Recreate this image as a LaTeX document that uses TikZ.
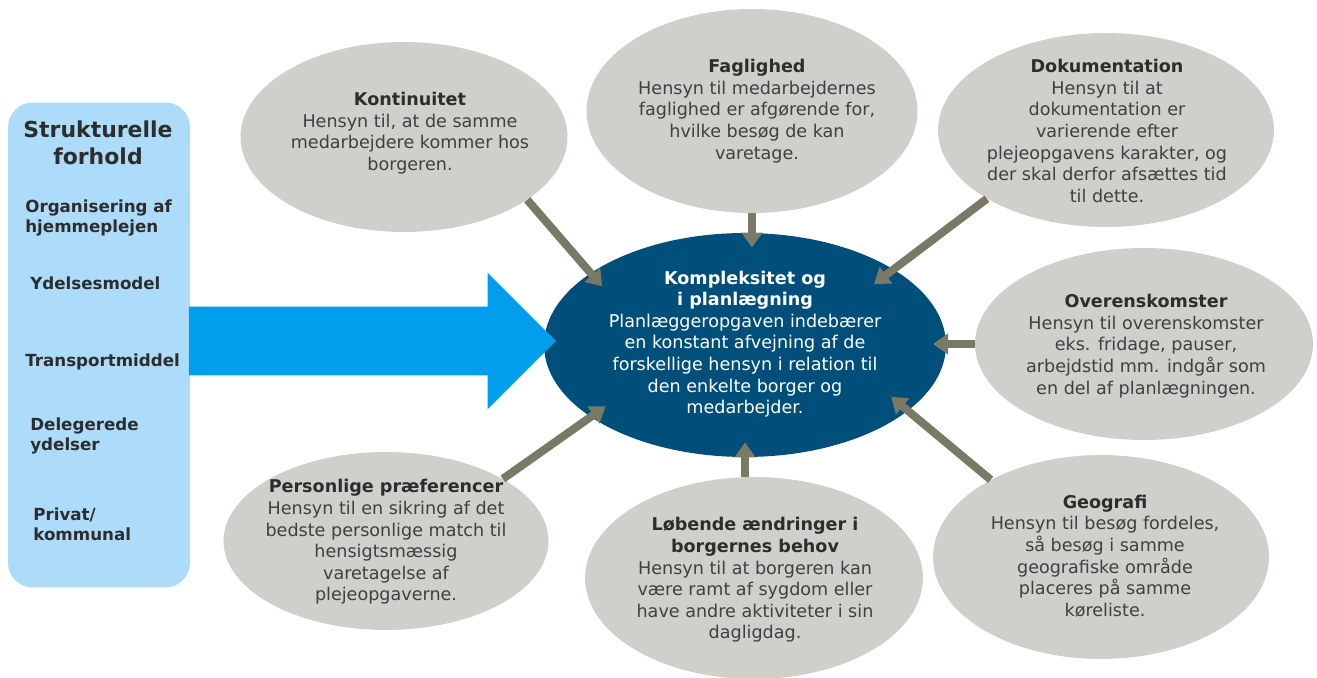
\documentclass[tikz,border=0pt]{standalone}
\usepackage{fontspec}
\setmainfont{DejaVu Sans}
\usetikzlibrary{arrows.meta,shapes.geometric,shapes.arrows}

\definecolor{panelblue}{RGB}{172,220,250}
\definecolor{pushblue}{RGB}{0,158,236}
\definecolor{coreblue}{RGB}{0,79,122}
\definecolor{factorgray}{RGB}{208,207,203}
\definecolor{linkgray}{RGB}{122,121,102}
\definecolor{textgray}{RGB}{64,64,64}
\definecolor{headgray}{RGB}{45,45,45}

\begin{document}
\begin{tikzpicture}[
  x=0.02cm, y=-0.02cm,
  panel/.style={
    fill=panelblue,
    rounded corners=14pt,
    minimum width=3.64cm,
    minimum height=9.7cm
  },
  panelhead/.style={font=\fontsize{12.5}{15.3}\selectfont\bfseries, text=headgray, align=center, inner sep=0pt},
  panelitem/.style={font=\fontsize{9.5}{11.3}\selectfont\bfseries, text=headgray, align=left, anchor=west, inner sep=0pt},
  factor/.style={ellipse, fill=factorgray, inner sep=0pt},
  factortext/.style={font=\fontsize{10}{12.3}\selectfont, text=textgray, align=center, inner sep=0pt},
  core/.style={ellipse, fill=coreblue, inner sep=0pt, minimum width=8.04cm, minimum height=4.48cm},
  coretext/.style={font=\fontsize{10}{12.3}\selectfont, text=white, align=center, inner sep=0pt},
  push/.style={
    single arrow,
    fill=pushblue,
    inner xsep=0pt,
    inner ysep=0.68cm,
    single arrow head extend=0.68cm,
    single arrow tip angle=90,
    minimum height=7.34cm
  },
  link/.style={-{Triangle[length=8.5pt,width=11.5pt]}, line width=4.6pt, draw=linkgray}
]
\useasboundingbox (0,0) rectangle (1317,678);

% left column
\node[panel] (panel) at (99,345) {};
\node[panelhead] (panel-head) at (98,143) {Strukturelle\\forhold};
\node[panelitem] (org) at (25,218) {Organisering af\\hjemmeplejen};
\node[panelitem] (ydel) at (30,283) {Ydelsesmodel};
\node[panelitem] (trans) at (25,362) {Transportmiddel};
\node[panelitem] (deleg) at (30,436) {Delegerede\\ydelser};
\node[panelitem] (priv) at (33,524) {Privat/\\kommunal};

% the surrounding factors
\node[factor, minimum width=6.54cm, minimum height=3.8cm] (kont) at (404,137) {};
\node[factor, minimum width=6.62cm, minimum height=4.08cm] (fag) at (752,111) {};
\node[factor, minimum width=6.72cm, minimum height=3.88cm] (dok) at (1106,130) {};
\node[factor, minimum width=6.76cm, minimum height=3.84cm] (ove) at (1144,344) {};
\node[factor, minimum width=6.72cm, minimum height=4.08cm] (geo) at (1101,557) {};
\node[factor, minimum width=6.76cm, minimum height=4.04cm] (lob) at (754,578) {};
\node[factor, minimum width=6.5cm, minimum height=3.56cm] (pers) at (386,541) {};

% centre
\node[core] (core) at (745,345) {};
\node[push, anchor=tail, xshift=-1pt, yshift=2.3pt] (push) at (panel.east) {};

\node[factortext] (kont-txt) at (410,133) {\textcolor{headgray}{\textbf{Kontinuitet}}\\
  Hensyn til, at de samme\\medarbejdere kommer hos\\borgeren.};
\node[factortext] (fag-txt) at (757,111) {\textcolor{headgray}{\textbf{Faglighed}}\\
  Hensyn til medarbejdernes\\faglighed er afgørende for,\\hvilke besøg de kan\\varetage.};
\node[factortext] (dok-txt) at (1107,131) {\textcolor{headgray}{\textbf{Dokumentation}}\\
  Hensyn til at\\dokumentation er\\varierende efter\\plejeopgavens karakter, og\\der skal derfor afsættes tid\\til dette.};
\node[factortext] (ove-txt) at (1146,346) {\textcolor{headgray}{\textbf{Overenskomster}}\\
  Hensyn til overenskomster\\eks. fridage, pauser,\\arbejdstid mm. indgår som\\en del af planlægningen.};
\node[factortext] (geo-txt) at (1105,556) {\textcolor{headgray}{\textbf{Geografi}}\\
  Hensyn til besøg fordeles,\\så besøg i samme\\geografiske område\\placeres på samme\\køreliste.};
\node[factortext] (lob-txt) at (755,580) {\textcolor{headgray}{\textbf{Løbende ændringer i}}\\
  \textcolor{headgray}{\textbf{borgernes behov}}\\
  Hensyn til at borgeren kan\\være ramt af sygdom eller\\have andre aktiviteter i sin\\dagligdag.};
\node[factortext] (pers-txt) at (386,542) {\textcolor{headgray}{\textbf{Personlige præferencer}}\\
  Hensyn til en sikring af det\\bedste personlige match til\\hensigtsmæssig\\varetagelse af\\plejeopgaverne.};
\node[coretext] (core-txt) at (745,344) {\textbf{Kompleksitet og}\\\textbf{i planlægning}\\
  Planlæggeropgaven indebærer\\en konstant afvejning af de\\forskellige hensyn i relation til\\den enkelte borger og\\medarbejder.};

% arrows into the centre
\draw[link, shorten >=-10pt] (kont.-27) -- (core.155);
\draw[link, shorten >=-8.5pt] (fag.south) -- (fag.south |- core.north);
\draw[link, shorten >=-14pt] (dok.210) -- (core.27);
\draw[link, shorten >=-7.5pt] (ove.west) -- (ove.west -| core.east);
\draw[link, shorten >=-12.5pt] (geo.145) -- (core.-22);
\draw[link, shorten >=-8.5pt] (core.south |- lob.north) -- (core.south);
\draw[link, shorten >=-10.5pt] (pers.28) -- (core.205);
\end{tikzpicture}
\end{document}
